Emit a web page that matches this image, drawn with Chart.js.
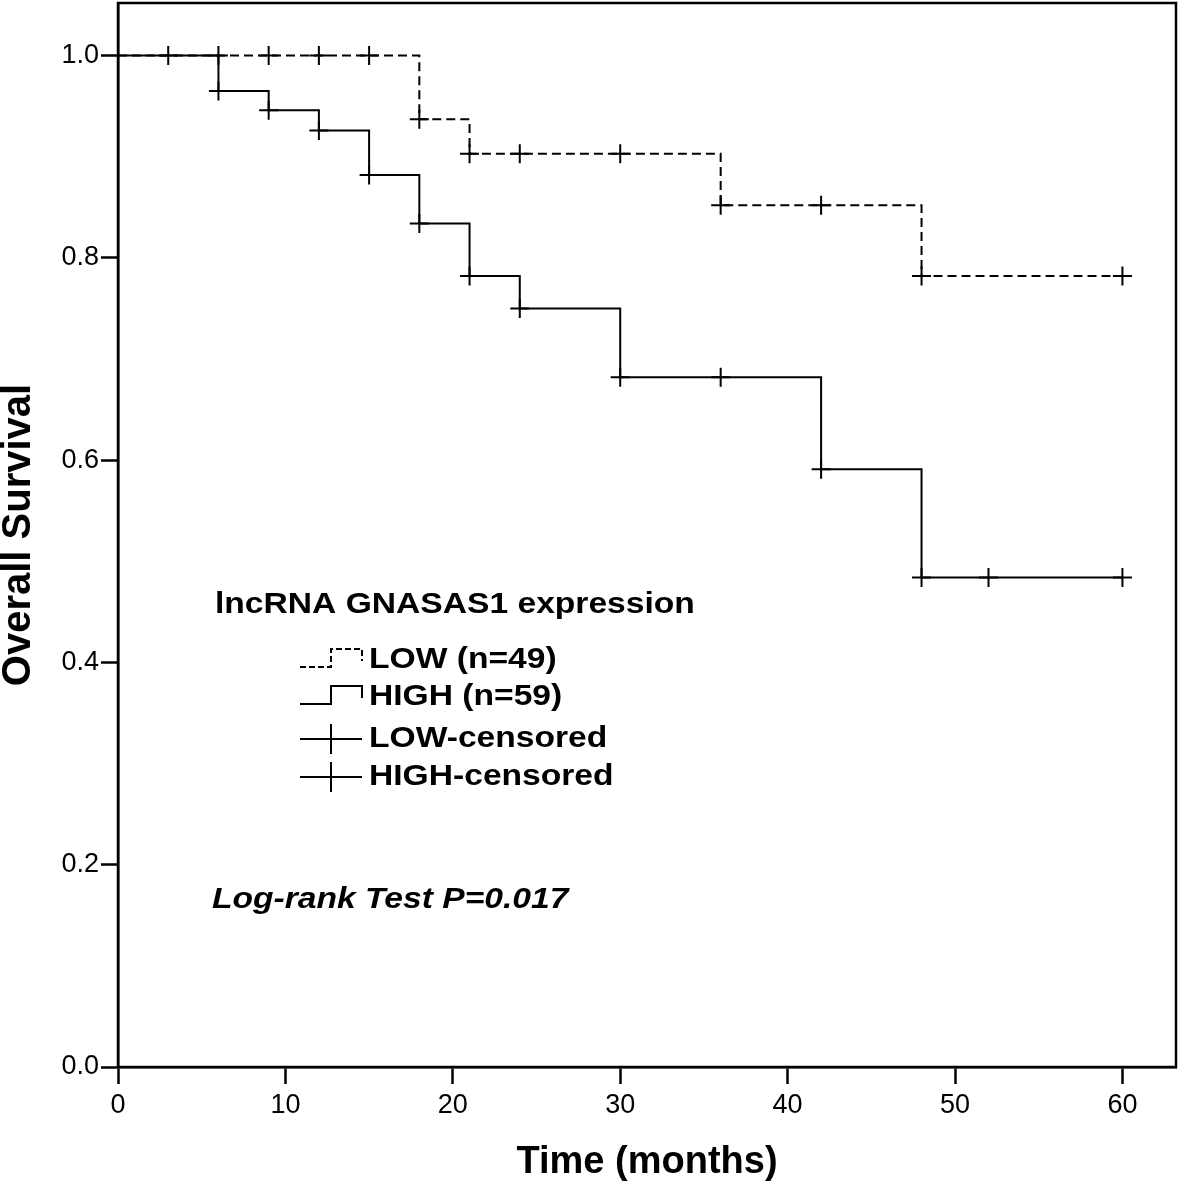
<!DOCTYPE html>
<html>
<head>
<meta charset="utf-8">
<script src="https://cdn.jsdelivr.net/npm/chart.js@4/dist/chart.umd.min.js"></script>
<style>
  html, body { margin: 0; padding: 0; background: #fff; }
  #wrap { width: 1181px; height: 1188px; }
</style>
</head>
<body>
<div id="wrap"><canvas id="c" width="1181" height="1188"></canvas></div>
<script>
// ---- data ----
const lowTimes = [0, 18, 21, 36, 48, 60];
const lowSurv  = [1.0, 0.937, 0.903, 0.852, 0.782, 0.782];
const highTimes = [0, 6, 9, 12, 15, 18, 21, 24, 30, 42, 48, 60];
const highSurv  = [1.0, 0.965, 0.946, 0.926, 0.882, 0.834, 0.782, 0.750, 0.682, 0.591, 0.484, 0.484];
const lowCensTimes = [3, 6, 9, 12, 15, 18, 21, 24, 30, 36, 42, 48, 60];
const lowCensSurv  = [1.0, 1.0, 1.0, 1.0, 1.0, 0.937, 0.903, 0.903, 0.903, 0.852, 0.852, 0.782, 0.782];
const highCensTimes = [6, 9, 12, 15, 18, 21, 24, 30, 36, 42, 48, 52, 60];
const highCensSurv  = [0.965, 0.946, 0.926, 0.882, 0.834, 0.782, 0.750, 0.682, 0.682, 0.591, 0.484, 0.484, 0.484];
const xTicks = [0, 10, 20, 30, 40, 50, 60];
const yTicks = [0, 0.2, 0.4, 0.6, 0.8, 1.0];
const legendTitle = 'lncRNA GNASAS1 expression';
const legendLabels = ['LOW (n=49)', 'HIGH (n=59)', 'LOW-censored', 'HIGH-censored'];
const annotationText = 'Log-rank Test P=0.017';
const xTitle = 'Time (months)';
const yTitle = 'Overall Survival';

const pts = (xs, ys) => xs.map((x, i) => ({ x: x, y: ys[i] }));
const FONT = '"Liberation Sans", Arial, sans-serif';

const framePlugin = {
  id: 'frame',
  afterDatasetsDraw(chart) {
    const { ctx, chartArea: a } = chart;
    ctx.save();
    ctx.strokeStyle = '#000';
    ctx.lineWidth = 2.5;
    ctx.strokeRect(a.left, a.top, a.right - a.left, a.bottom - a.top);
    ctx.restore();
  }
};

const legendPlugin = {
  id: 'kmLegend',
  afterDraw(chart) {
    const ctx = chart.ctx;
    const sx = 1.12;
    const text = (str, x, y, font) => {
      ctx.save();
      ctx.font = font;
      ctx.fillStyle = '#000';
      ctx.textBaseline = 'middle';
      ctx.textAlign = 'left';
      ctx.translate(x, y);
      ctx.scale(sx, 1);
      ctx.fillText(str, 0, 0);
      ctx.restore();
    };
    text(legendTitle, 215, 605, 'bold 30px ' + FONT);
    const rows = [660, 697, 739, 777];
    const x0 = 300, x1 = 362, rise = 331;
    ctx.save();
    ctx.strokeStyle = '#000';
    ctx.lineWidth = 2;
    [0, 1].forEach(i => {
      const r = rows[i];
      ctx.setLineDash(i === 0 ? [6, 3] : []);
      ctx.beginPath();
      ctx.moveTo(x0, r + 7);
      ctx.lineTo(rise, r + 7);
      ctx.lineTo(rise, r - 11);
      ctx.lineTo(x1, r - 11);
      ctx.lineTo(x1, r + 1);
      ctx.stroke();
    });
    ctx.setLineDash([]);
    [2, 3].forEach(i => {
      const r = rows[i];
      ctx.beginPath();
      ctx.moveTo(x0, r);
      ctx.lineTo(x1, r);
      ctx.moveTo(rise, r - 15);
      ctx.lineTo(rise, r + 15);
      ctx.stroke();
    });
    ctx.restore();
    legendLabels.forEach((lab, i) => text(lab, 369, rows[i], 'bold 30px ' + FONT));
    text(annotationText, 212, 900, 'italic bold 30px ' + FONT);
  }
};

new Chart(document.getElementById('c'), {
  type: 'line',
  data: {
    datasets: [
      { label: 'LOW', data: pts(lowTimes, lowSurv), stepped: true, borderColor: '#000',
        borderWidth: 2, borderDash: [9, 5], pointRadius: 0, fill: false },
      { label: 'HIGH', data: pts(highTimes, highSurv), stepped: true, borderColor: '#000',
        borderWidth: 2, pointRadius: 0, fill: false },
      { label: 'LOW-censored', data: pts(lowCensTimes, lowCensSurv), showLine: false,
        pointStyle: 'cross', pointRadius: 9.5, pointBorderWidth: 2, borderColor: '#000', pointBorderColor: '#000' },
      { label: 'HIGH-censored', data: pts(highCensTimes, highCensSurv), showLine: false,
        pointStyle: 'cross', pointRadius: 9.5, pointBorderWidth: 2, borderColor: '#000', pointBorderColor: '#000' }
    ]
  },
  options: {
    responsive: false,
    devicePixelRatio: 1,
    animation: false,
    events: [],
    layout: { autoPadding: false, padding: { top: 3, right: 5, left: 0, bottom: 0 } },
    plugins: { legend: { display: false }, tooltip: { enabled: false }, title: { display: false } },
    elements: { line: { tension: 0 } },
    scales: {
      x: {
        type: 'linear', min: 0, max: 63.2,
        afterBuildTicks: s => { s.ticks = xTicks.map(v => ({ value: v })); },
        afterFit: s => { s.height = 121; s.paddingLeft = 0; s.paddingRight = 0; },
        grid: { display: true, drawOnChartArea: false, drawTicks: true, tickLength: 17, tickWidth: 2.5, tickColor: '#000' },
        border: { display: true, color: '#000', width: 2.5 },
        ticks: { color: '#000', padding: 5, maxRotation: 0, autoSkip: false,
                 font: { family: FONT, size: 27 }, callback: v => String(v) },
        title: { display: true, text: xTitle, color: '#000',
                 font: { family: FONT, size: 38, weight: 'bold', lineHeight: 1 },
                 padding: { top: 0, bottom: 6 } }
      },
      y: {
        type: 'linear', min: 0, max: 1.052,
        afterBuildTicks: s => { s.ticks = yTicks.map(v => ({ value: v })); },
        afterFit: s => { s.width = 118; s.paddingTop = 0; s.paddingBottom = 0; },
        grid: { display: true, drawOnChartArea: false, drawTicks: true, tickLength: 17, tickWidth: 2.5, tickColor: '#000' },
        border: { display: true, color: '#000', width: 2.5 },
        ticks: { color: '#000', padding: 2, autoSkip: false,
                 font: { family: FONT, size: 27 }, callback: v => Number(v).toFixed(1) },
        title: { display: true, text: yTitle, color: '#000',
                 font: { family: FONT, size: 40, weight: 'bold', lineHeight: 1 },
                 padding: { top: -1, bottom: 0 } }
      }
    }
  },
  plugins: [framePlugin, legendPlugin]
});
</script>
</body>
</html>
